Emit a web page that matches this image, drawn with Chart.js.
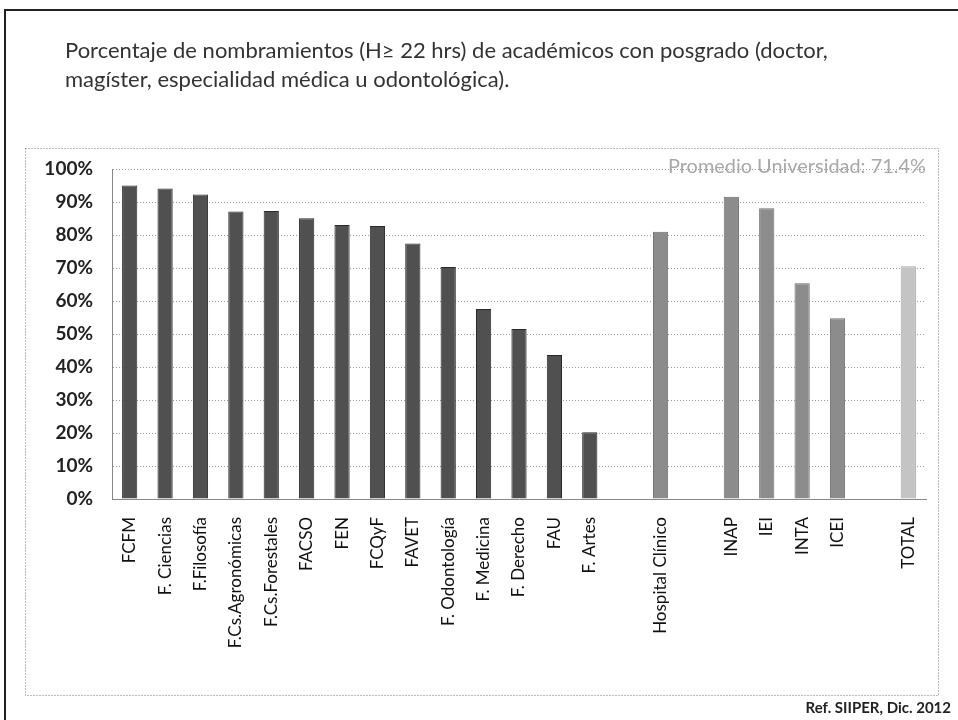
<!DOCTYPE html>
<html>
<head>
<meta charset="utf-8">
<script src="https://cdn.jsdelivr.net/npm/chart.js@4"></script>
<style>
  html, body { margin: 0; padding: 0; background: #fff; }
  #wrap { width: 958px; height: 720px; position: relative; }
</style>
</head>
<body>
<div id="wrap"><canvas id="chart" width="958" height="720"></canvas></div>
<script>
// datos (espacios vacíos = separadores)
const categories = [
  "FCFM", "F. Ciencias", "F.Filosofía", "F.Cs.Agronómicas", "F.Cs.Forestales",
  "FACSO", "FEN", "FCQyF", "FAVET", "F. Odontología", "F. Medicina",
  "F. Derecho", "FAU", "F. Artes", "", "Hospital Clínico", "",
  "INAP", "IEI", "INTA", "ICEI", "", "TOTAL"
];
const values = [
  95, 94.1, 92.3, 87.1, 87.3,
  85.1, 83, 82.7, 77.4, 70.3, 57.6,
  51.5, 43.6, 20.2, null, 81, null,
  91.6, 88.1, 65.4, 54.8, null, 70.5
];
// grupo: 0 facultades, 1 hospital/institutos, 2 total
const groups = [0,0,0,0,0,0,0,0,0,0,0,0,0,0,0,1,1,1,1,1,1,2,2];
const yTicks = [0, 10, 20, 30, 40, 50, 60, 70, 80, 90, 100];

const titleLines = [
  "Porcentaje de nombramientos (H\u2265 22 hrs) de académicos con posgrado (doctor,",
  "magíster, especialidad médica u odontológica)."
];
const promedioText = "Promedio Universidad: 71.4%";
const refText = "Ref. SIIPER, Dic. 2012";

const groupColors = ["#505050", "#8c8c8c", "#c4c4c4"];
const groupBorders = ["#2a2a2a", "#6e6e6e", "#a8a8a8"];

const decor = {
  id: "decor",
  beforeDraw(chart) {
    const c = chart.ctx;
    c.save();
    c.fillStyle = "#fff";
    c.fillRect(0, 0, chart.width, chart.height);
    // marco exterior
    c.strokeStyle = "#222";
    c.lineWidth = 2;
    c.beginPath();
    c.moveTo(5, 720);
    c.lineTo(5, 10);
    c.lineTo(958, 10);
    c.stroke();
    // borde punteado del gráfico
    c.strokeStyle = "#777";
    c.lineWidth = 1;
    c.setLineDash([1, 2]);
    c.strokeRect(25.5, 148.5, 913, 547);
    c.setLineDash([]);
    c.restore();
  },
  afterDraw(chart) {
    const c = chart.ctx;
    c.save();
    c.fillStyle = "#333";
    c.font = "22px Lato";
    c.textBaseline = "alphabetic";
    c.fillText(titleLines[0], 65, 58, 767);
    c.fillText(titleLines[1], 65, 87);
    c.fillStyle = "#a8a8a8";
    c.font = "20px Lato";
    c.textAlign = "right";
    c.fillText(promedioText, 926, 173, 258);
    c.fillStyle = "#222";
    c.font = "bold 15px Lato";
    c.fillText(refText, 951, 713);
    c.restore();
  }
};

new Chart(document.getElementById("chart"), {
  type: "bar",
  data: {
    labels: categories,
    datasets: [{
      data: values,
      backgroundColor: groups.map(g => groupColors[g]),
      borderColor: groups.map(g => groupBorders[g]),
      borderWidth: 1,
      barPercentage: 0.86,
      categoryPercentage: 0.5
    }]
  },
  options: {
    responsive: false,
    animation: false,
    layout: { padding: { left: 25, right: 32, top: 169, bottom: 20 } },
    plugins: { legend: { display: false }, tooltip: { enabled: false } },
    scales: {
      x: {
        afterFit(axis) { axis.height = 201; },
        grid: { display: false, drawTicks: false },
        border: { color: "#888", dash: [1, 2] },
        ticks: {
          autoSkip: false,
          minRotation: 90,
          maxRotation: 90,
          padding: 18,
          color: "#111",
          font: { family: "Lato", size: 17 }
        }
      },
      y: {
        min: 0,
        max: 100,
        afterFit(axis) { axis.width = 87; },
        afterBuildTicks(axis) { axis.ticks = yTicks.map(v => ({ value: v })); },
        grid: { color: "#9a9a9a", drawTicks: false },
        border: { color: "#888", dash: [1, 2] },
        ticks: {
          padding: 19,
          color: "#222",
          font: { family: "Lato", size: 19, weight: "bold" },
          callback: v => v + "%"
        }
      }
    }
  },
  plugins: [decor]
});
</script>
</body>
</html>
